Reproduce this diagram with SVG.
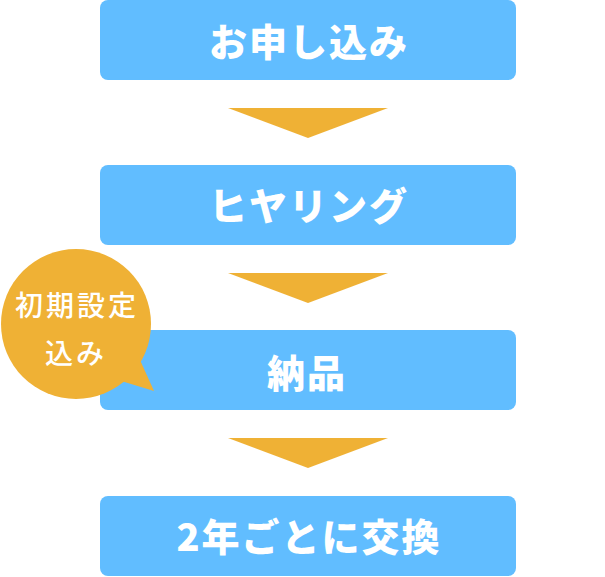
<svg xmlns="http://www.w3.org/2000/svg" width="605" height="577" viewBox="0 0 605 577">
<style>
.box{fill:#61bdff}
.arrow{fill:#efb135}
.lbl{fill:#ffffff;font-family:"Noto Sans CJK JP","Noto Sans",sans-serif;font-weight:900;font-size:38px;letter-spacing:2px;text-anchor:middle}
.bub{fill:#efb135}
.btxt{fill:#ffffff;font-family:"Noto Sans CJK JP","Noto Sans",sans-serif;font-weight:500;font-size:28px;letter-spacing:3px;text-anchor:middle}
</style>
<rect width="605" height="577" fill="#ffffff"/>
<g id="connectors">
<polygon class="arrow" points="228,108 388,108 308,138"/>
<polygon class="arrow" points="228,273 388,273 308,303"/>
<polygon class="arrow" points="228,438 388,438 308,468"/>
</g>
<g id="node-apply">
<rect class="box" x="100" y="0" width="416" height="80" rx="8"/>
<text class="lbl" x="309" y="56">お申し込み</text>
</g>
<g id="node-hearing">
<rect class="box" x="100" y="165" width="416" height="80" rx="8"/>
<text class="lbl" x="309" y="220">ヒヤリング</text>
</g>
<g id="node-delivery">
<rect class="box" x="100" y="330" width="416" height="80" rx="8"/>
<text class="lbl" x="307" y="387">納品</text>
</g>
<g id="node-exchange">
<rect class="box" x="100" y="496" width="416" height="80" rx="8"/>
<text class="lbl" x="309" y="551">2年ごとに交換</text>
</g>
<g id="bubble">
<circle class="bub" cx="76" cy="324" r="75"/>
<polygon class="bub" points="118,380 154,391 140,360"/>
<text class="btxt" x="77" y="316">初期設定</text>
<text class="btxt" x="76" y="364">込み</text>
</g>
</svg>
